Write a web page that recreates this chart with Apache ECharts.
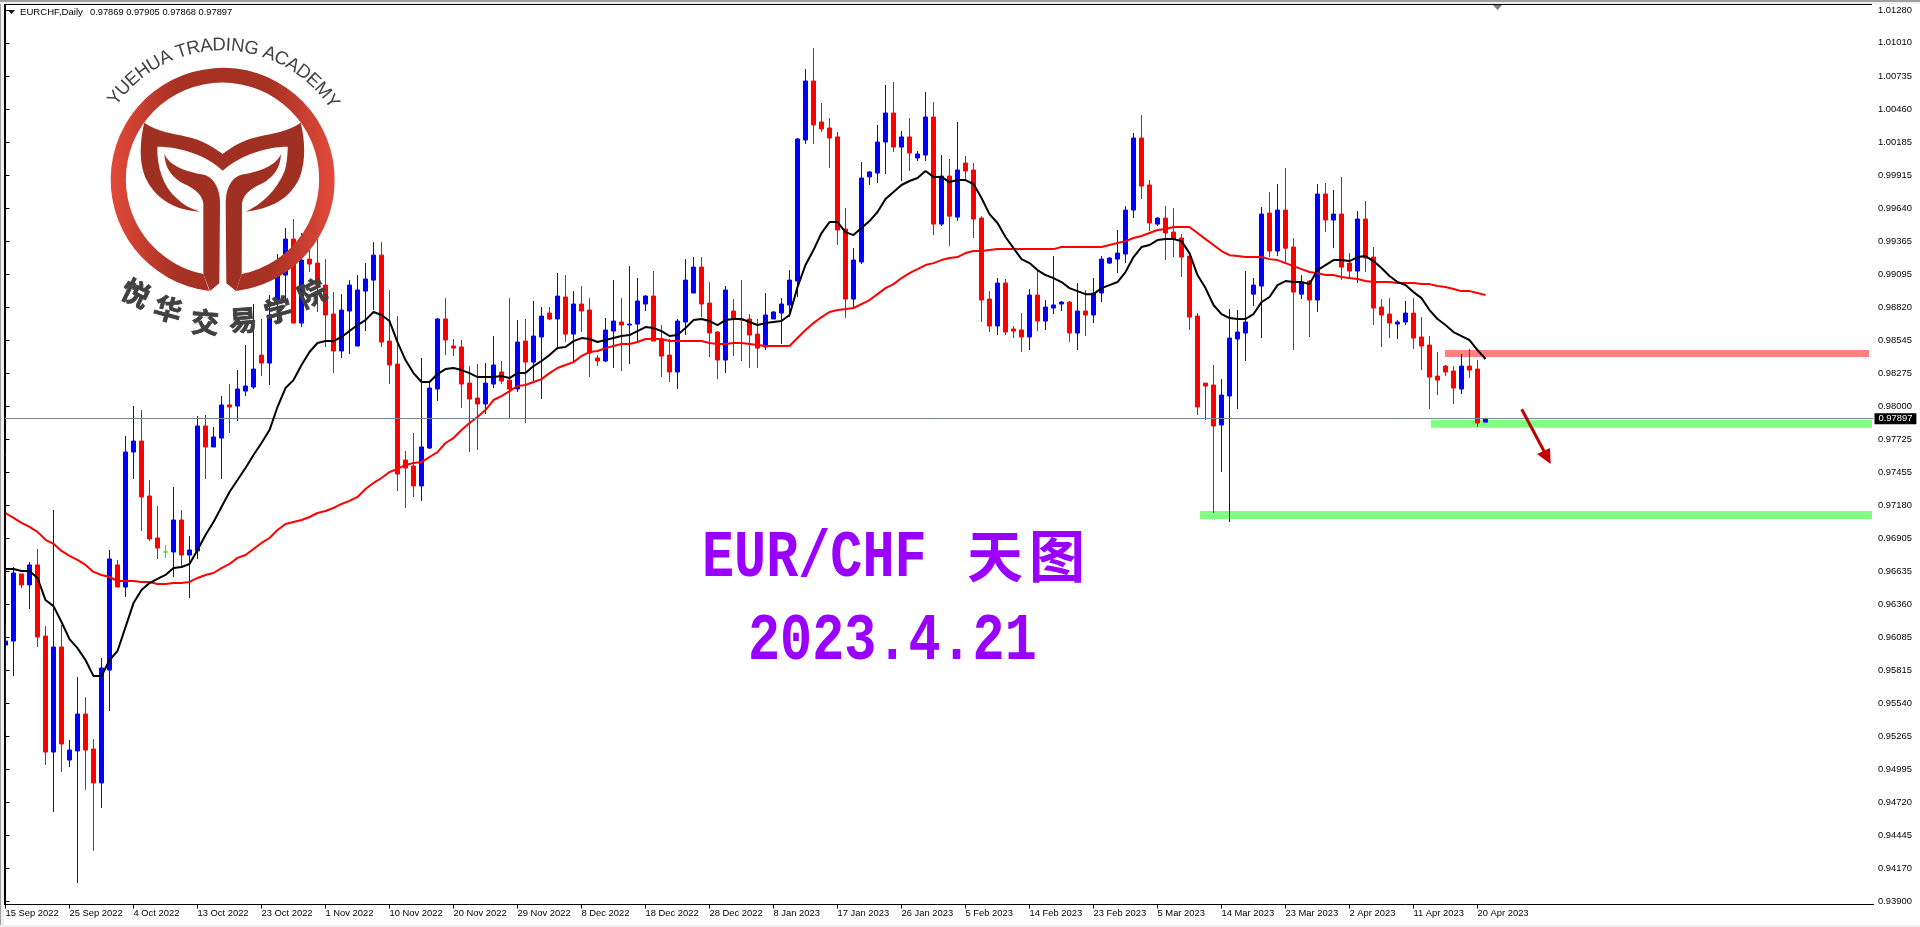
<!DOCTYPE html>
<html>
<head>
<meta charset="utf-8">
<title>EUR/CHF</title>
<script src="https://cdn.jsdelivr.net/npm/echarts@6/dist/echarts.min.js"></script>
<style>
  html, body { margin: 0; padding: 0; background: #fff; }
  #main { width: 1920px; height: 927px; }
</style>
</head>
<body>
<div id="main"></div>
<script>
// tick labels on the time axis, one every 8 bars
const tickLabels = ['15 Sep 2022', '25 Sep 2022', '4 Oct 2022', '13 Oct 2022', '23 Oct 2022', '1 Nov 2022', '10 Nov 2022', '20 Nov 2022',
  '29 Nov 2022', '8 Dec 2022', '18 Dec 2022', '28 Dec 2022', '8 Jan 2023', '17 Jan 2023', '26 Jan 2023', '5 Feb 2023', '14 Feb 2023',
  '23 Feb 2023', '5 Mar 2023', '14 Mar 2023', '23 Mar 2023', '2 Apr 2023', '11 Apr 2023', '20 Apr 2023']

const priceTicks = [1.0128, 1.0101, 1.00735, 1.0046, 1.00185, 0.99915, 0.9964, 0.99365, 0.99095, 0.9882, 0.98545, 0.98275, 0.98, 0.97725,
  0.97455, 0.9718, 0.96905, 0.96635, 0.9636, 0.96085, 0.95815, 0.9554, 0.95265, 0.94995, 0.9472, 0.94445, 0.9417, 0.939]

const lastPrice = 0.97897
const headerValues = '0.97869 0.97905 0.97868 0.97897'

const opens = [
  0.96022,0.96055,0.96611,0.96520,0.96686,0.96097,0.95136,0.96006,0.95070,0.95145,
  0.95451,0.95161,0.94880,0.95815,0.96686,0.96503,0.97621,0.97712,0.97257,0.96909,
  0.96793,0.96793,0.97058,0.96768,0.96802,0.97837,0.97663,0.97737,0.98011,0.98002,
  0.98126,0.98159,0.98424,0.98358,0.98880,0.99087,0.99385,0.98689,0.99219,0.99186,
  0.99004,0.98764,0.98458,0.98789,0.98499,0.98954,0.99045,0.99252,0.98540,0.98350,
  0.97555,0.97505,0.97340,0.97654,0.98143,0.98723,0.98499,0.98491,0.98192,0.98068,
  0.98019,0.98184,0.98284,0.98217,0.98143,0.98540,0.98366,0.98574,0.98772,0.98723,
  0.98905,0.98598,0.98847,0.98797,0.98400,0.98375,0.98623,0.98698,0.98673,0.98681,
  0.98847,0.98913,0.98557,0.98424,0.98284,0.98698,0.98938,0.99153,0.98855,0.98615,
  0.98383,0.98789,0.98723,0.98723,0.98598,0.98491,0.98723,0.98772,0.98839,0.99037,
  1.00206,1.00694,1.00355,1.00305,1.00231,0.99468,0.98888,0.99195,0.99900,0.99932,
  1.00189,1.00429,1.00147,1.00231,1.00057,1.00081,1.00396,0.99509,0.99907,0.99567,
  1.00015,0.99957,0.99559,0.98888,0.98665,0.99021,0.98640,0.98632,0.98574,0.98921,
  0.98706,0.98814,0.98847,0.98863,0.98607,0.98789,0.98756,0.98938,0.99186,0.99219,
  0.99261,0.99625,1.00222,0.99833,0.99509,0.99559,0.99443,0.99394,0.99244,0.98747,
  0.98192,0.98176,0.97845,0.98085,0.98557,0.98607,0.98929,0.98996,0.99600,0.99286,
  0.99625,0.99319,0.98929,0.99037,0.98880,0.99758,0.99543,0.99592,0.99186,0.99120,
  0.99551,0.99236,0.98822,0.98764,0.98681,0.98698,0.98772,0.98574,0.98507,0.98250,
  0.98333,0.98292,0.98143,0.98333,0.98308,0.97869]

const closes = [
  0.96055,0.96619,0.96520,0.96686,0.96089,0.95136,0.96006,0.95203,0.95153,0.95451,
  0.95153,0.94880,0.95832,0.96735,0.96503,0.97621,0.97712,0.97249,0.96901,0.96826,
  0.96793,0.97058,0.96768,0.96810,0.97837,0.97663,0.97746,0.98011,0.97994,0.98143,
  0.98168,0.98308,0.98358,0.98756,0.99087,0.99385,0.98689,0.99211,0.99178,0.99004,
  0.98756,0.98458,0.98797,0.99004,0.98963,0.99054,0.99252,0.98532,0.98342,0.97439,
  0.97489,0.97340,0.97663,0.98151,0.98723,0.98549,0.98482,0.98184,0.98060,0.98019,
  0.98192,0.98342,0.98209,0.98143,0.98532,0.98366,0.98582,0.98747,0.98723,0.98913,
  0.98598,0.98847,0.98789,0.98441,0.98375,0.98632,0.98706,0.98673,0.98681,0.98872,
  0.98913,0.98540,0.98416,0.98284,0.98706,0.99045,0.99153,0.98847,0.98607,0.98383,
  0.98963,0.98731,0.98714,0.98590,0.98482,0.98756,0.98781,0.98847,0.99045,1.00214,
  1.00694,1.00330,1.00297,1.00222,0.99460,0.98888,0.99211,0.99891,0.99941,1.00189,
  1.00429,1.00147,1.00231,1.00098,1.00090,1.00396,0.99509,0.99907,0.99575,0.99957,
  0.99949,0.99551,0.98880,0.98665,0.99021,0.98615,0.98623,0.98574,0.98921,0.98706,
  0.98822,0.98839,0.98863,0.98607,0.98789,0.98756,0.98938,0.99219,0.99228,0.99269,
  0.99625,1.00222,0.99824,0.99518,0.99559,0.99435,0.99385,0.99236,0.98739,0.97994,
  0.98168,0.97837,0.98093,0.98565,0.98615,0.98698,0.99004,0.99592,0.99286,0.99625,
  0.99310,0.98946,0.99029,0.98880,0.99758,0.99543,0.99592,0.99153,0.99120,0.99551,
  0.99228,0.98814,0.98756,0.98689,0.98698,0.98772,0.98565,0.98499,0.98242,0.98217,
  0.98284,0.98151,0.98333,0.98300,0.97861,0.97897]

const lows = [
  0.95302,0.95765,0.96495,0.96320,0.96006,0.95029,0.94640,0.94971,0.95012,0.94051,
  0.94822,0.94317,0.94673,0.95476,0.96503,0.96421,0.97398,0.96967,0.96884,0.96735,
  0.96744,0.96586,0.96677,0.96412,0.96735,0.97398,0.97663,0.97398,0.97779,0.97878,
  0.98085,0.98143,0.98250,0.98176,0.98714,0.98880,0.98689,0.98656,0.99112,0.98781,
  0.98491,0.98275,0.98400,0.98433,0.98499,0.98623,0.98797,0.98491,0.98184,0.97298,
  0.97158,0.97249,0.97216,0.97646,0.98044,0.98424,0.98416,0.97986,0.97621,0.97638,
  0.97936,0.98151,0.98184,0.97895,0.98118,0.97861,0.98201,0.98060,0.98714,0.98482,
  0.98532,0.98375,0.98615,0.98242,0.98333,0.98366,0.98317,0.98292,0.98350,0.98532,
  0.98789,0.98540,0.98242,0.98201,0.98143,0.98590,0.98938,0.98739,0.98408,0.98225,
  0.98275,0.98416,0.98375,0.98317,0.98317,0.98466,0.98723,0.98516,0.98739,0.98905,
  1.00173,1.00173,1.00272,0.99974,0.99336,0.98731,0.98822,0.99178,0.99833,0.99849,
  0.99924,1.00106,0.99866,0.99949,1.00032,1.00032,0.99418,0.99493,0.99327,0.99534,
  0.99883,0.99394,0.98698,0.98615,0.98590,0.98590,0.98565,0.98450,0.98466,0.98623,
  0.98632,0.98764,0.98789,0.98532,0.98466,0.98582,0.98689,0.98863,0.99178,0.99103,
  0.99186,0.99559,0.99717,0.99451,0.99493,0.99211,0.99236,0.99071,0.98632,0.97928,
  0.97886,0.97116,0.97456,0.97042,0.97977,0.98375,0.98830,0.98565,0.99236,0.99244,
  0.99186,0.98466,0.98888,0.98574,0.98781,0.99443,0.99310,0.99045,0.99062,0.99021,
  0.99112,0.98673,0.98491,0.98565,0.98557,0.98673,0.98474,0.98300,0.97977,0.98093,
  0.98250,0.98019,0.98101,0.98234,0.97828,0.97868]

const highs = [
  0.96196,0.96669,0.96611,0.96710,0.96818,0.96180,0.97141,0.96188,0.95236,0.95757,
  0.95591,0.95244,0.95915,0.96810,0.96727,0.97754,0.98002,0.97969,0.97389,0.97174,
  0.96851,0.97331,0.97141,0.96926,0.97919,0.97928,0.97828,0.98085,0.98184,0.98300,
  0.98507,0.98847,0.98723,0.98921,0.99261,0.99476,0.99551,0.99435,0.99319,0.99385,
  0.99219,0.98946,0.98929,0.99045,0.99087,0.99186,0.99360,0.99360,0.98963,0.98747,
  0.97630,0.97779,0.98400,0.98201,0.98731,0.98896,0.98557,0.98549,0.98333,0.98350,
  0.98358,0.98582,0.98375,0.98896,0.98714,0.98723,0.98872,0.98822,0.98822,0.99104,
  0.99087,0.98954,0.98996,0.98896,0.98424,0.98731,0.99045,0.98896,0.99161,0.99062,
  0.98921,0.99120,0.98673,0.98557,0.98723,0.99219,0.99236,0.99236,0.99029,0.98623,
  0.98996,0.98888,0.99045,0.98764,0.98723,0.98938,0.98789,0.98896,0.99128,1.00222,
  1.00793,1.00967,1.00512,1.00388,1.00272,0.99642,0.99310,1.00023,0.99949,1.00330,
  1.00661,1.00686,1.00280,1.00388,1.00114,1.00603,1.00520,1.00081,1.00048,1.00355,
  1.00073,1.00015,0.99575,0.98954,0.99062,0.99054,0.98665,0.98772,0.98971,0.99120,
  0.98880,0.99244,0.98872,0.98872,0.99021,0.98963,0.99062,0.99244,0.99236,0.99460,
  0.99658,1.00264,1.00412,0.99874,0.99567,0.99658,0.99642,0.99427,0.99252,0.98772,
  0.98192,0.98342,0.98226,0.98806,0.98797,0.99120,0.99062,0.99650,0.99775,0.99841,
  0.99974,0.99394,0.99087,0.99045,0.99841,0.99849,0.99791,0.99900,0.99269,0.99617,
  0.99700,0.99319,0.98888,0.98896,0.98714,0.98872,0.98896,0.98739,0.98582,0.98450,
  0.98342,0.98333,0.98433,0.98474,0.98383,0.97905]

// fast moving average (black)
const maFast = [
  0.96652,0.96652,0.96636,0.96636,0.96578,0.96395,0.96345,0.96213,0.96072,0.95997,
  0.95898,0.95765,0.95765,0.95898,0.95973,0.96171,0.96370,0.96478,0.96536,0.96570,
  0.96603,0.96660,0.96669,0.96694,0.96810,0.96934,0.97042,0.97166,0.97290,0.97389,
  0.97489,0.97596,0.97696,0.97803,0.97994,0.98151,0.98217,0.98342,0.98450,0.98524,
  0.98540,0.98540,0.98574,0.98623,0.98673,0.98714,0.98781,0.98756,0.98706,0.98532,
  0.98383,0.98275,0.98201,0.98201,0.98267,0.98308,0.98317,0.98300,0.98275,0.98242,
  0.98242,0.98242,0.98250,0.98234,0.98275,0.98275,0.98333,0.98375,0.98424,0.98482,
  0.98491,0.98540,0.98565,0.98557,0.98532,0.98549,0.98565,0.98582,0.98590,0.98623,
  0.98656,0.98648,0.98623,0.98582,0.98590,0.98648,0.98714,0.98723,0.98706,0.98673,
  0.98714,0.98723,0.98723,0.98698,0.98673,0.98689,0.98698,0.98706,0.98756,0.98987,
  0.99170,0.99294,0.99435,0.99526,0.99526,0.99443,0.99418,0.99476,0.99534,0.99609,
  0.99717,0.99775,0.99833,0.99866,0.99891,0.99949,0.99900,0.99900,0.99857,0.99874,
  0.99874,0.99841,0.99725,0.99592,0.99518,0.99402,0.99310,0.99219,0.99186,0.99128,
  0.99087,0.99062,0.99029,0.98979,0.98954,0.98929,0.98929,0.98979,0.99004,0.99029,
  0.99112,0.99236,0.99319,0.99336,0.99377,0.99385,0.99385,0.99368,0.99269,0.99087,
  0.98979,0.98839,0.98764,0.98731,0.98723,0.98723,0.98764,0.98863,0.98905,0.99004,
  0.99037,0.99029,0.99029,0.99012,0.99128,0.99170,0.99211,0.99211,0.99203,0.99236,
  0.99244,0.99203,0.99145,0.99079,0.99029,0.99004,0.98946,0.98896,0.98797,0.98723,
  0.98673,0.98615,0.98582,0.98549,0.98466,0.98392]

// slow moving average (red)
const maSlow = [
  0.97116,0.97075,0.97034,0.97001,0.96960,0.96894,0.96861,0.96802,0.96761,0.96727,
  0.96686,0.96628,0.96603,0.96586,0.96553,0.96553,0.96553,0.96545,0.96545,0.96528,
  0.96528,0.96536,0.96536,0.96545,0.96578,0.96603,0.96619,0.96660,0.96694,0.96744,
  0.96768,0.96818,0.96868,0.96909,0.96975,0.97025,0.97042,0.97058,0.97083,0.97116,
  0.97133,0.97158,0.97191,0.97216,0.97249,0.97315,0.97365,0.97406,0.97456,0.97481,
  0.97514,0.97530,0.97538,0.97580,0.97621,0.97696,0.97737,0.97803,0.97861,0.97911,
  0.97969,0.98052,0.98085,0.98126,0.98168,0.98176,0.98201,0.98225,0.98275,0.98317,
  0.98342,0.98366,0.98416,0.98450,0.98458,0.98482,0.98499,0.98516,0.98516,0.98532,
  0.98557,0.98557,0.98557,0.98540,0.98540,0.98540,0.98540,0.98540,0.98524,0.98516,
  0.98516,0.98524,0.98524,0.98516,0.98507,0.98499,0.98499,0.98499,0.98499,0.98565,
  0.98632,0.98689,0.98739,0.98781,0.98797,0.98805,0.98814,0.98847,0.98880,0.98929,
  0.98979,0.99012,0.99062,0.99103,0.99136,0.99170,0.99186,0.99211,0.99228,0.99236,
  0.99269,0.99286,0.99286,0.99294,0.99302,0.99302,0.99302,0.99302,0.99302,0.99302,
  0.99302,0.99302,0.99319,0.99319,0.99319,0.99319,0.99319,0.99319,0.99336,0.99352,
  0.99368,0.99394,0.99410,0.99435,0.99460,0.99468,0.99485,0.99485,0.99485,0.99435,
  0.99385,0.99336,0.99286,0.99252,0.99244,0.99236,0.99236,0.99236,0.99219,0.99211,
  0.99186,0.99161,0.99136,0.99112,0.99103,0.99087,0.99087,0.99071,0.99062,0.99054,
  0.99037,0.99029,0.99029,0.99029,0.99021,0.99021,0.99021,0.99012,0.99012,0.98996,
  0.98988,0.98971,0.98954,0.98954,0.98938,0.98921]

// horizontal zones: from bar, to bar, upper price, lower price
const zoneStart = [179.94, 178.19, 149.31]
const zoneEnd = [232.94, 233.31, 233.31]
const zoneTop = [0.98466, 0.97889, 0.97133]
const zoneBottom = [0.98408, 0.97823, 0.97066]
const zoneColors = ['#ff8080', '#80ff80', '#80ff80']

const barCount = 234 // chart has empty room on the right
const categories = []
for (let i = 0; i < barCount; i++) {
  categories.push(i % 8 === 0 && tickLabels[i / 8] ? tickLabels[i / 8] : '')
}
const candles = opens.map((o, i) => [o, closes[i], lows[i], highs[i]])
const zones = zoneStart.map((s, i) => [s, zoneEnd[i], zoneTop[i], zoneBottom[i]])

const axisFont = 'Liberation Sans'
const axisFontSize = 9.4
const Z = 50

// logo letters around the ring
const logoCx = 222.3, logoCy = 179.3
function arcLetters() {
  const text = 'YUEHUA TRADING ACADEMY'
  const font = '18.6px "Liberation Sans"'
  const ctx = document.createElement('canvas').getContext('2d')
  ctx.font = font
  const total = ctx.measureText(text).width
  const radius = 134
  const out = []
  let run = 0
  for (const ch of text) {
    const w = ctx.measureText(ch).width
    const a = (run + w / 2 - total / 2) / radius + 0.015
    out.push({
      type: 'text', z: Z,
      x: logoCx + radius * Math.sin(a),
      y: logoCy - radius * Math.cos(a),
      rotation: -a,
      style: { text: ch, font: font, fill: '#444', align: 'center', verticalAlign: 'middle' }
    })
    run += w
  }
  return out
}

function cnLetters() {
  const chars = ['悦', '华', '交', '易', '学', '院']
  const xs = [136, 168, 205, 243, 278, 312]
  const ys = [293, 309, 322, 320, 310, 293]
  const rot = [-26, -15, -4, 4, 15, 26]
  return chars.map((c, i) => ({
    type: 'text', z: Z, x: xs[i], y: ys[i], rotation: rot[i] * Math.PI / 180,
    style: { text: c, font: 'bold 28px "Noto Sans CJK SC"', fill: '#404040', stroke: '#404040', lineWidth: 0.8, align: 'center', verticalAlign: 'middle' }
  }))
}

const ringPath = 'M628 873A336 336 0 1 1 708 873L725 822A290 290 0 1 0 610 822Z'
const tailPath = 'M433 368C470 395 520 400 560 410C610 420 645 445 668 462C690 445 725 420 775 410C815 400 865 395 902 368' +
  'C915 420 918 480 900 530C870 600 810 625 738 635C780 615 830 575 855 510C862 480 863 460 863 440C800 440 720 465 668 512' +
  'C620 465 540 440 472 440C470 500 490 560 530 595C550 615 570 625 600 635C530 632 470 600 440 540C415 490 420 420 433 368Z'
const stemLeft = 'M493 462C510 500 560 515 615 525C645 535 660 570 660 610L658 850L630 873L610 822L610 610C605 575 570 560 540 545C510 525 495 500 493 462Z'
const stemRight = 'M843 462C826 500 776 515 721 525C691 535 677 570 677 610L679 850L708 873L725 822L726 610C731 575 766 560 796 545C826 525 841 500 843 462Z'

// the graphic component has no plain path type, so register the logo outlines as shapes
echarts.graphic.registerShape('logoRing', echarts.graphic.extendPath(ringPath, {}))
echarts.graphic.registerShape('logoTail', echarts.graphic.extendPath(tailPath, {}))
echarts.graphic.registerShape('logoStemLeft', echarts.graphic.extendPath(stemLeft, {}))
echarts.graphic.registerShape('logoStemRight', echarts.graphic.extendPath(stemRight, {}))

let myChart = echarts.init(document.getElementById('main'), null, { renderer: 'canvas' })

let option = {
  animation: false,
  backgroundColor: '#fff',
  grid: { left: 1.5, right: 46.5, top: 4.5, bottom: 22.5, containLabel: false },
  xAxis: [
    {
      type: 'category',
      data: categories,
      boundaryGap: true,
      axisLine: { lineStyle: { color: '#000', width: 1 } },
      axisTick: { show: true, alignWithLabel: true, interval: i => i % 8 === 0 && i <= 184, length: 4, lineStyle: { color: '#000' } },
      axisLabel: { interval: 7, align: 'left', margin: 4, color: '#000', fontFamily: axisFont, fontSize: axisFontSize, showMinLabel: true, hideOverlap: false },
      splitLine: { show: false }
    },
    { type: 'value', min: -0.5, max: 233.5, show: false }
  ],
  yAxis: {
    type: 'value',
    position: 'right',
    offset: -1.5,
    min: 0.938733,
    max: 1.01328,
    scale: true,
    splitLine: { show: false },
    axisLine: { show: true, lineStyle: { color: '#000', width: 1 } },
    axisTick: { show: true, length: 4, customValues: priceTicks, lineStyle: { color: '#000' } },
    axisLabel: {
      customValues: priceTicks,
      margin: 6,
      color: '#000',
      fontFamily: axisFont,
      fontSize: axisFontSize,
      formatter: v => v.toFixed(5)
    }
  },
  series: [
    {
      name: 'zones',
      type: 'custom',
      xAxisIndex: 1,
      z: 1,
      silent: true,
      encode: { x: [0, 1], y: [2, 3] },
      data: zones,
      renderItem: (params, api) => {
        const a = api.coord([api.value(0), api.value(2)])
        const b = api.coord([api.value(1), api.value(3)])
        return { type: 'rect', shape: { x: a[0], y: a[1], width: b[0] - a[0], height: b[1] - a[1] }, style: { fill: zoneColors[params.dataIndex] } }
      }
    },
    {
      name: 'EURCHF',
      type: 'candlestick',
      z: 3,
      barWidth: 5,
      data: candles,
      itemStyle: {
        color: '#0000ff', color0: '#ff0000',
        borderColor: '#0000ff', borderColor0: '#ff0000', borderColorDoji: '#00ff00', borderWidth: 1
      },
      markLine: {
        silent: true,
        symbol: 'none',
        precision: 5, // default of 2 rounds the price to 0.98
        data: [{ yAxis: lastPrice }],
        lineStyle: { color: '#778899', type: 'solid', width: 1 },
        label: {
          position: 'end', distance: 1,
          formatter: lastPrice.toFixed(5),
          color: '#fff', backgroundColor: '#000', fontFamily: axisFont, fontSize: axisFontSize,
          padding: [1, 4, 1, 4]
        }
      }
    },
    { name: 'maSlow', type: 'line', z: 4, data: maSlow, showSymbol: false, symbol: 'none', lineStyle: { color: '#ff0000', width: 2 } },
    { name: 'maFast', type: 'line', z: 5, data: maFast, showSymbol: false, symbol: 'none', lineStyle: { color: '#000', width: 2 } }
  ],
  graphic: [
    // window frame
    { type: 'rect', z: Z, shape: { x: 0, y: 0, width: 4, height: 927 }, style: { fill: '#f0f0f0' } },
    { type: 'rect', z: Z, shape: { x: 0, y: 0, width: 1, height: 927 }, style: { fill: '#a0a0a0' } },
    { type: 'rect', z: Z, shape: { x: 0, y: 0, width: 1920, height: 2 }, style: { fill: '#a0a0a0' } },
    { type: 'rect', z: Z, shape: { x: 0, y: 2, width: 1920, height: 2 }, style: { fill: '#f0f0f0' } },
    { type: 'rect', z: Z, shape: { x: 0, y: 925, width: 1920, height: 2 }, style: { fill: '#f0f0f0' } },
    { type: 'rect', z: Z, shape: { x: 4, y: 4, width: 1, height: 901 }, style: { fill: '#000' } },
    { type: 'rect', z: Z, shape: { x: 4, y: 4, width: 1868, height: 1 }, style: { fill: '#000' } },
    // symbol header
    { type: 'polygon', z: Z, shape: { points: [[8, 10], [15, 10], [11.5, 14]] }, style: { fill: '#000' } },
    { type: 'text', z: Z, x: 20, y: 12.5, style: { text: 'EURCHF,Daily', font: '9.6px "Liberation Sans"', fill: '#000', verticalAlign: 'middle' } },
    { type: 'text', z: Z, x: 90, y: 12.5, style: { text: headerValues, font: '9.3px "Liberation Sans"', fill: '#000', verticalAlign: 'middle' } },
    // shift marker at the top
    { type: 'polygon', z: Z, shape: { points: [[1493, 5], [1502, 5], [1497.5, 10]] }, style: { fill: '#708090' } },
    // big caption
    { type: 'text', z: Z, x: 702, y: 559, scaleX: 0.81, style: { text: 'EUR/CHF', font: 'bold 66px "Liberation Mono"', fill: '#9900ff', verticalAlign: 'middle' } },
    { type: 'text', z: Z, x: 967, y: 556, style: { text: '天', font: 'bold 56px "Noto Sans CJK SC"', fill: '#9900ff', verticalAlign: 'middle' } },
    { type: 'text', z: Z, x: 1029, y: 556, style: { text: '图', font: 'bold 56px "Noto Sans CJK SC"', fill: '#9900ff', verticalAlign: 'middle' } },
    { type: 'text', z: Z, x: 748, y: 642, scaleX: 0.81, style: { text: '2023.4.21', font: 'bold 66px "Liberation Mono"', fill: '#9900ff', verticalAlign: 'middle' } },
    // arrow
    { type: 'line', z: Z, shape: { x1: 1521.7, y1: 409.3, x2: 1545, y2: 453 }, style: { stroke: '#c00000', lineWidth: 3 } },
    { type: 'polygon', z: Z, shape: { points: [[1537, 454], [1550, 448], [1550.7, 464]] }, style: { fill: '#c00000' } },
    // logo
    {
      type: 'logoRing', z: Z, scaleX: 1 / 3, scaleY: 1 / 3,
      style: {
        fill: new echarts.graphic.LinearGradient(0, 0, 1, 0, [
          { offset: 0, color: '#e24a3a' }, { offset: 0.3, color: '#a73123' },
          { offset: 0.7, color: '#a73123' }, { offset: 1, color: '#e24a3a' }
        ])
      }
    },
    { type: 'logoTail', z: Z, scaleX: 1 / 3, scaleY: 1 / 3, style: { fill: '#a03022' } },
    { type: 'logoStemLeft', z: Z, scaleX: 1 / 3, scaleY: 1 / 3, style: { fill: '#a03022' } },
    { type: 'logoStemRight', z: Z, scaleX: 1 / 3, scaleY: 1 / 3, style: { fill: '#a03022' } }
  ].concat(arcLetters(), cnLetters())
}

myChart.setOption(option)
</script>
</body>
</html>
